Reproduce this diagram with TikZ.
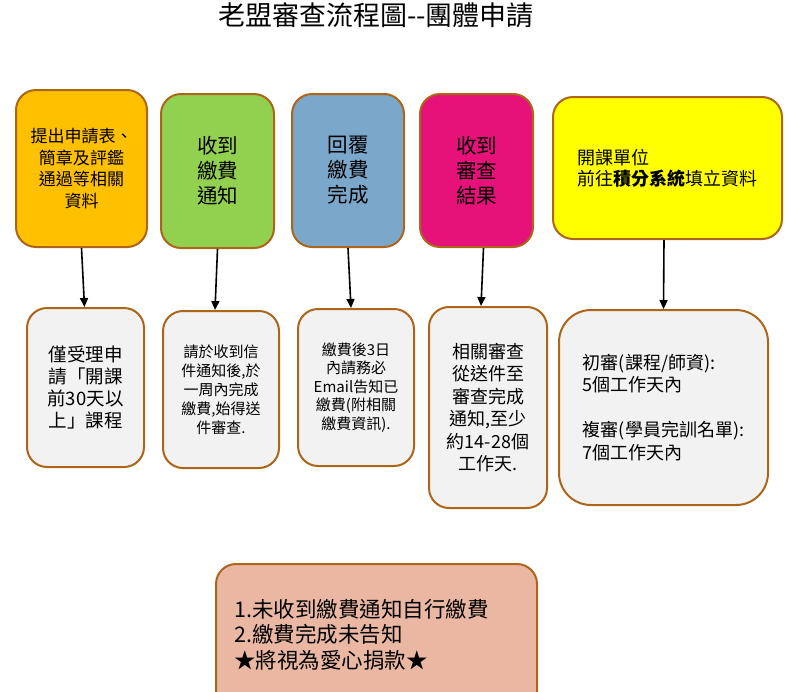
\documentclass[tikz,border=0pt]{standalone}
\usepackage{fontspec}
\setmainfont{Noto Sans CJK TC}
\usetikzlibrary{arrows.meta}
\definecolor{brd}{HTML}{AD6519}
\definecolor{c1}{HTML}{FFC000}
\definecolor{c2}{HTML}{92D050}
\definecolor{c3}{HTML}{7BA7CA}
\definecolor{c4}{HTML}{E6127A}
\definecolor{c5}{HTML}{FFFF00}
\definecolor{cg}{HTML}{F2F2F2}
\definecolor{cb}{HTML}{EAB8A2}
\tikzset{
  box/.style={draw=brd, line width=2pt, rounded corners=20pt, inner sep=0pt, align=center},
  conn/.style={draw=black, line width=1.6pt, -{Triangle[length=9pt,width=8pt]}},
}
\begin{document}
\begin{tikzpicture}[x=1pt,y=-1pt]
\useasboundingbox (0,0) rectangle (797,691);
\clip (0,0) rectangle (797,691);
\node (title) at (376,15) {\fontsize{27}{30}\selectfont 老盟審查流程圖-{}-團體申請};
% top row
\node[box, fill=c1, minimum width=131pt, minimum height=157pt, font=\fontsize{17}{21.5}\selectfont] (t1) at (81.5,168.5) {提出申請表、\\簡章及評鑑\\通過等相關\\資料};
\node[box, fill=c2, minimum width=113pt, minimum height=154pt, font=\fontsize{20.5}{25}\selectfont] (t2) at (217.5,171) {收到\\繳費\\通知};
\node[box, fill=c3, minimum width=112pt, minimum height=153pt, font=\fontsize{20.5}{25}\selectfont] (t3) at (348,170.5) {回覆\\繳費\\完成};
\node[box, fill=c4, minimum width=113pt, minimum height=153pt, font=\fontsize{20.5}{25}\selectfont] (t4) at (476.5,170.5) {收到\\審查\\結果};
\node[box, fill=c5, minimum width=229pt, minimum height=142pt, align=left, font=\fontsize{18}{21}\selectfont] (t5) at (667.5,168) {開課單位\\前往\textbf{積分系統}填立資料};
% second row
\node[box, fill=cg, minimum width=117pt, minimum height=159pt, font=\fontsize{18.5}{22}\selectfont] (b1) at (85.5,387.5) {僅受理申\\請「開課\\前30天以\\上」課程};
\node[box, fill=cg, minimum width=116pt, minimum height=157pt, font=\fontsize{15}{19}\selectfont] (b2) at (221,389.5) {請於收到信\\件通知後,於\\一周內完成\\繳費,始得送\\件審查.};
\node[box, fill=cg, minimum width=116pt, minimum height=157pt, font=\fontsize{15}{18.5}\selectfont] (b3) at (356,387.5) {繳費後3日\\內請務必\\Email告知已\\繳費(附相關\\繳費資訊).};
\node[box, fill=cg, minimum width=118pt, minimum height=201pt, font=\fontsize{18}{22.5}\selectfont] (b4) at (488,407.5) {相關審查\\從送件至\\審查完成\\通知,至少\\約14-28個\\工作天.};
\node[box, fill=cg, rounded corners=32pt, minimum width=209pt, minimum height=195pt, align=left, font=\fontsize{18}{22.5}\selectfont] (b5) at (663.5,407.5) {初審(課程/師資):\\5個工作天內\\[22.5pt]複審(學員完訓名單):\\7個工作天內};
% bottom note
\node[box, fill=cb, minimum width=321pt, minimum height=170pt, anchor=north west] (note) at (215,563) {};
\node[align=left, anchor=north west, inner sep=0pt, font=\fontsize{21.5}{25.5}\selectfont] (notetext) at (234,599) {1.未收到繳費通知自行繳費\\2.繳費完成未告知\\★將視為愛心捐款★};
% connectors
\draw[conn] (t1.south) -- ([xshift=-1pt]b1.north);
\draw[conn] (t2.south) -- ([xshift=-6pt]b2.north);
\draw[conn] (t3.south) -- ([xshift=-5pt]b3.north);
\draw[conn] ([xshift=7pt]t4.south) -- ([xshift=-7pt]b4.north);
\draw[conn] ([xshift=-3.5pt]t5.south) -- (b5.north);
\end{tikzpicture}
\end{document}
